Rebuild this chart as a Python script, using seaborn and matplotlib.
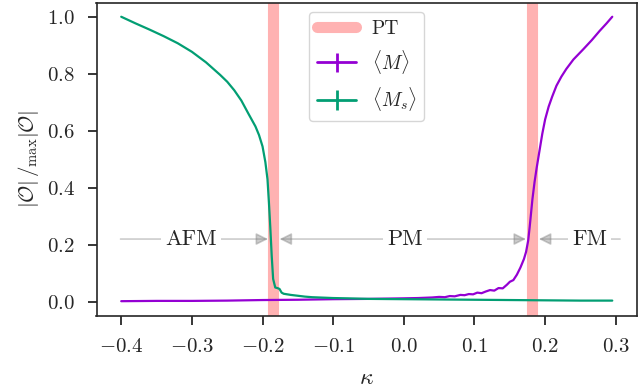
import numpy as np
import matplotlib
matplotlib.use("Agg")
import matplotlib.pyplot as plt
import seaborn as sns

# datos
kappa_ms = [-0.400, -0.380, -0.360, -0.340, -0.320, -0.300, -0.280, -0.260, -0.250, -0.240,
            -0.230, -0.220, -0.210, -0.205, -0.200, -0.196, -0.193, -0.191, -0.189, -0.187,
            -0.185, -0.182, -0.179, -0.176, -0.173, -0.170, -0.165, -0.160, -0.150, -0.140,
            -0.130, -0.120, -0.100, -0.080, -0.050, 0.000, 0.050, 0.100, 0.150, 0.200,
            0.250, 0.295]
ms = [1.000, 0.977, 0.955, 0.932, 0.907, 0.877, 0.840, 0.796, 0.772, 0.742,
      0.706, 0.660, 0.615, 0.585, 0.545, 0.490, 0.430, 0.350, 0.260, 0.160,
      0.080, 0.050, 0.048, 0.045, 0.032, 0.028, 0.026, 0.024, 0.021, 0.018,
      0.016, 0.015, 0.013, 0.012, 0.010, 0.009, 0.008, 0.007, 0.006, 0.005,
      0.004, 0.004]

kappa_m = [-0.400, -0.350, -0.300, -0.250, -0.200, -0.150, -0.100, -0.050, 0.000, 0.020,
           0.040, 0.050, 0.058, 0.065, 0.072, 0.080, 0.086, 0.092, 0.098, 0.104,
           0.110, 0.116, 0.122, 0.128, 0.134, 0.140, 0.146, 0.150, 0.155, 0.160,
           0.165, 0.170, 0.173, 0.176, 0.178, 0.180, 0.182, 0.185, 0.188, 0.192,
           0.196, 0.200, 0.205, 0.210, 0.216, 0.223, 0.230, 0.240, 0.254, 0.266,
           0.277, 0.287, 0.295]
m = [0.002, 0.003, 0.003, 0.004, 0.006, 0.007, 0.009, 0.010, 0.012, 0.013,
     0.015, 0.017, 0.016, 0.020, 0.019, 0.024, 0.023, 0.027, 0.026, 0.032,
     0.030, 0.036, 0.041, 0.039, 0.048, 0.047, 0.060, 0.070, 0.076, 0.095,
     0.120, 0.150, 0.175, 0.215, 0.260, 0.310, 0.360, 0.420, 0.470, 0.530,
     0.590, 0.640, 0.685, 0.720, 0.758, 0.790, 0.817, 0.850, 0.886, 0.918,
     0.950, 0.977, 1.000]

pt = [-0.185, 0.182]
fases = ["AFM", "PM", "FM"]
fase_x = [-0.301, 0.002, 0.263]

sns.set_style("ticks")
plt.rcParams["font.family"] = "serif"
plt.rcParams["font.serif"] = ["cmr10"]
plt.rcParams["mathtext.fontset"] = "cm"
plt.rcParams["axes.formatter.use_mathtext"] = True
plt.rcParams["axes.unicode_minus"] = True
plt.rcParams["font.size"] = 14

col_m = "#9400d3"
col_ms = "#029e73"

fig = plt.figure(figsize=(6.4, 3.89), dpi=100)
ax = fig.add_axes([96.5 / 640, 1 - 316 / 389, 540.5 / 640, 313.5 / 389])

# bandas de transicion
for i, k in enumerate(pt):
    ax.axvline(k, color="red", alpha=0.3, lw=8, label="PT" if i == 0 else None, zorder=1)

sns.lineplot(x=kappa_m, y=m, color=col_m, lw=1.6, ax=ax, zorder=3)
sns.lineplot(x=kappa_ms, y=ms, color=col_ms, lw=1.6, ax=ax, zorder=3)

# proxies con barras de error para la leyenda
ax.errorbar([np.nan], [np.nan], yerr=[0.01], color=col_m, lw=2, label=r"$\langle M\rangle$")
ax.errorbar([np.nan], [np.nan], yerr=[0.01], color=col_ms, lw=2, label=r"$\langle M_s\rangle$")

# flechas de fases
y_fl = 0.22
flecha = dict(arrowstyle="-|>", color="gray", alpha=0.4, lw=1.2, mutation_scale=18,
              shrinkA=0, shrinkB=0)
ax.annotate("", xy=(-0.192, y_fl), xytext=(-0.401, y_fl), arrowprops=flecha)
ax.annotate("", xy=(0.173, y_fl), xytext=(-0.176, y_fl),
            arrowprops=dict(flecha, arrowstyle="<|-|>"))
ax.annotate("", xy=(0.191, y_fl), xytext=(0.306, y_fl),
            arrowprops=flecha)
for nombre, xf in zip(fases, fase_x):
    ax.text(xf, y_fl, nombre, ha="center", va="center", fontsize=16, zorder=4,
            bbox=dict(facecolor="white", edgecolor="none", pad=3))

ax.set_xlim(-0.435, 0.33)
ax.set_ylim(-0.05, 1.05)
ax.set_xticks([-0.4, -0.3, -0.2, -0.1, 0.0, 0.1, 0.2, 0.3])
ax.set_yticks([0.0, 0.2, 0.4, 0.6, 0.8, 1.0])
ax.tick_params(length=6.5, width=1.3, labelsize=15, pad=9)
for s in ax.spines.values():
    s.set_linewidth(1.2)
ax.set_xlabel(r"$\kappa$", fontsize=17, labelpad=8)
ax.set_ylabel(r"$|\mathcal{O}|\,/_{\max}|\mathcal{O}|$", fontsize=15, labelpad=4)

ax.legend(loc="upper center", fontsize=14)

plt.savefig("out.png", dpi=100)
